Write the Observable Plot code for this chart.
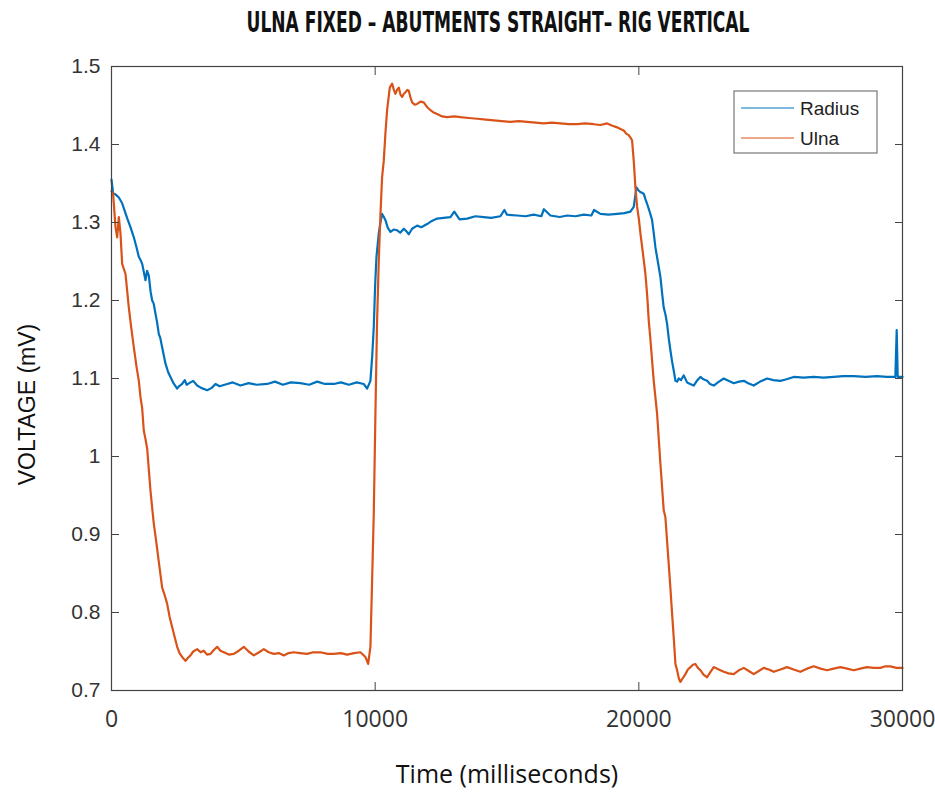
<!DOCTYPE html>
<html>
<head>
<meta charset="utf-8">
<script src="https://cdn.jsdelivr.net/npm/d3@7"></script>
<script src="https://cdn.jsdelivr.net/npm/@observablehq/plot@0.6"></script>
<style>
  html, body { margin: 0; padding: 0; background: #fff; }
  #titlebox { width: 935px; height: 50px; position: relative; }
  #title {
    position: absolute; left: 498px; top: 5px;
    font-family: 'Liberation Sans Narrow', 'DejaVu Sans Condensed', 'DejaVu Sans', sans-serif;
    font-weight: bold; font-size: 29px; line-height: 34px; color: #111;
    white-space: nowrap; transform-origin: 0 50%;
  }
</style>
</head>
<body>
<div id="titlebox"><span id="title"></span></div>
<div id="chart"></div>
<script>
// ---------- data ----------
const titleText = "ULNA FIXED \u2013 ABUTMENTS STRAIGHT\u2013 RIG VERTICAL";
const xLabel = "Time (milliseconds)";
const yLabel = "VOLTAGE (mV)";
const seriesNames = ["Radius", "Ulna"];
const seriesColors = ["#0072BD", "#D95319"];
const xTicks = [0, 10000, 20000, 30000];
const yTicks = [0.7, 0.8, 0.9, 1.0, 1.1, 1.2, 1.3, 1.4, 1.5];

const radiusTime = [0,60,150,278,400,468,600,720,847,950,1036,1100,1163,1289,1350,1416,1480,1542,1600,1668,1730,1795,1850,1921,2048,2150,2237,2350,2490,2560,2680,2780,2850,2996,3100,3249,3400,3628,3800,3944,4100,4387,4600,4892,5200,5500,5904,6200,6500,6800,7167,7500,7800,8100,8430,8700,9000,9300,9567,9694,9820,9890,9947,10000,10049,10137,10200,10263,10330,10390,10480,10580,10700,10832,10950,11085,11180,11275,11400,11591,11750,11970,12150,12350,12600,12855,13000,13200,13488,13800,14120,14400,14751,14900,15000,15384,15700,16014,16300,16400,16647,17000,17280,17600,17910,18200,18300,18543,18850,19176,19450,19680,19807,19909,19990,20060,20185,20250,20314,20400,20503,20570,20629,20720,20819,20880,20944,21010,21072,21140,21198,21260,21325,21388,21450,21514,21600,21704,21830,21950,22082,22200,22335,22450,22589,22700,22840,23000,23220,23400,23600,23800,23980,24150,24356,24600,24864,25100,25368,25600,25873,26250,26632,27000,27391,27750,28149,28600,29035,29400,29729,29780,29818,30000];
const radiusVoltage = [1.355,1.338,1.336,1.332,1.325,1.318,1.305,1.294,1.281,1.268,1.256,1.252,1.247,1.226,1.238,1.232,1.212,1.200,1.196,1.183,1.172,1.157,1.152,1.140,1.119,1.108,1.102,1.094,1.087,1.090,1.093,1.098,1.092,1.095,1.097,1.091,1.088,1.085,1.088,1.093,1.090,1.093,1.095,1.091,1.094,1.092,1.093,1.096,1.092,1.095,1.094,1.092,1.096,1.093,1.093,1.095,1.092,1.095,1.093,1.087,1.097,1.130,1.166,1.220,1.256,1.286,1.300,1.311,1.307,1.303,1.293,1.288,1.291,1.290,1.287,1.292,1.289,1.285,1.292,1.296,1.294,1.298,1.302,1.305,1.306,1.307,1.314,1.304,1.305,1.308,1.307,1.306,1.308,1.316,1.310,1.309,1.308,1.310,1.308,1.317,1.309,1.307,1.309,1.308,1.310,1.309,1.316,1.311,1.310,1.311,1.312,1.314,1.320,1.345,1.341,1.339,1.337,1.330,1.324,1.315,1.303,1.285,1.268,1.250,1.230,1.210,1.191,1.182,1.170,1.150,1.136,1.122,1.110,1.097,1.096,1.100,1.098,1.104,1.095,1.093,1.091,1.097,1.102,1.099,1.097,1.093,1.091,1.095,1.100,1.097,1.094,1.096,1.097,1.094,1.091,1.096,1.100,1.098,1.097,1.099,1.102,1.101,1.102,1.101,1.102,1.103,1.103,1.102,1.103,1.102,1.102,1.162,1.102,1.102];

const ulnaTime = [0,60,152,215,278,341,404,531,657,750,847,950,1036,1100,1163,1225,1290,1354,1400,1479,1540,1604,1700,1794,1860,1921,2000,2112,2200,2302,2400,2490,2580,2680,2806,2900,2996,3100,3249,3380,3500,3620,3754,3880,4008,4130,4260,4450,4638,4830,5017,5200,5397,5600,5776,5960,6155,6350,6534,6720,6913,7150,7420,7650,7925,8200,8430,8700,8938,9200,9442,9631,9733,9820,9884,9947,10010,10070,10137,10200,10263,10326,10390,10453,10554,10643,10710,10769,10830,10895,10960,11022,11090,11149,11220,11275,11340,11402,11500,11591,11720,11843,11970,12097,12220,12350,12540,12729,13000,13234,13550,13867,14200,14498,14800,15130,15450,15763,16080,16393,16700,17026,17340,17660,17970,18290,18540,18797,19000,19176,19300,19428,19520,19617,19700,19744,19807,19870,19935,20000,20060,20150,20250,20320,20376,20440,20503,20565,20692,20818,20944,21008,21070,21134,21200,21262,21330,21388,21451,21520,21577,21670,21767,21860,21957,22050,22146,22240,22335,22460,22589,22700,22840,23030,23220,23400,23600,23800,23980,24170,24356,24550,24736,24930,25115,25370,25620,25870,26126,26380,26632,26890,27138,27390,27644,27900,28149,28400,28655,28900,29161,29350,29540,29770,30000];
const ulnaVoltage = [1.340,1.337,1.294,1.281,1.307,1.286,1.247,1.234,1.191,1.165,1.140,1.115,1.097,1.076,1.062,1.033,1.022,1.010,0.990,0.956,0.935,0.914,0.890,0.865,0.848,0.832,0.824,0.811,0.795,0.781,0.768,0.756,0.748,0.743,0.738,0.742,0.745,0.750,0.753,0.749,0.751,0.746,0.747,0.752,0.756,0.751,0.749,0.746,0.747,0.751,0.756,0.750,0.745,0.749,0.753,0.749,0.747,0.748,0.745,0.748,0.749,0.748,0.747,0.749,0.749,0.747,0.747,0.748,0.746,0.748,0.749,0.743,0.734,0.756,0.841,0.927,1.055,1.170,1.251,1.310,1.358,1.379,1.415,1.444,1.473,1.478,1.470,1.465,1.470,1.473,1.464,1.461,1.465,1.467,1.470,1.469,1.460,1.454,1.451,1.452,1.455,1.454,1.448,1.444,1.441,1.439,1.436,1.435,1.436,1.435,1.434,1.433,1.432,1.431,1.430,1.429,1.430,1.429,1.428,1.427,1.428,1.427,1.426,1.426,1.427,1.426,1.425,1.427,1.424,1.422,1.420,1.418,1.414,1.412,1.408,1.405,1.379,1.345,1.320,1.305,1.286,1.262,1.234,1.205,1.174,1.150,1.123,1.097,1.055,0.991,0.931,0.922,0.892,0.862,0.830,0.798,0.765,0.734,0.726,0.715,0.711,0.716,0.721,0.727,0.730,0.733,0.734,0.729,0.726,0.720,0.717,0.723,0.730,0.727,0.724,0.722,0.721,0.726,0.729,0.725,0.721,0.725,0.729,0.727,0.724,0.727,0.730,0.727,0.724,0.728,0.731,0.728,0.726,0.728,0.730,0.728,0.726,0.728,0.730,0.729,0.729,0.731,0.731,0.729,0.729];

// ---------- build rows ----------
const rows = [
  ...radiusTime.map((t, i) => ({series: seriesNames[0], t, v: radiusVoltage[i]})),
  ...ulnaTime.map((t, i) => ({series: seriesNames[1], t, v: ulnaVoltage[i]}))
];

const fmtY = d => String(+d.toFixed(1));
const innerY = yTicks.slice(1, -1);
const innerX = xTicks.slice(1, -1);
const axisColor = "#444";

// ---------- legend (render-function mark) ----------
function legendMark(index, scales, values, dims) {
  const g = d3.create("svg:g");
  const right = dims.width - dims.marginRight - 25;
  const top = dims.marginTop + 25;
  const w = 143, rowH = 30, h = 62;
  g.append("rect").attr("x", right - w).attr("y", top).attr("width", w).attr("height", h)
    .attr("fill", "white").attr("stroke", "#777").attr("stroke-width", 1.2);
  seriesNames.forEach((name, i) => {
    const cy = top + 17 + i * rowH;
    g.append("line").attr("x1", right - w + 7).attr("x2", right - w + 60)
      .attr("y1", cy).attr("y2", cy).attr("stroke", seriesColors[i]).attr("stroke-width", 1.2);
    g.append("text").attr("x", right - w + 66).attr("y", cy).attr("dy", "0.35em")
      .attr("text-anchor", "start")
      .attr("font-family", "'Liberation Sans', Arial, sans-serif").attr("font-size", 19)
      .attr("fill", "#222").text(name);
  });
  return g.node();
}

// ---------- chart ----------
const chart = Plot.plot({
  width: 935,
  height: 743,
  marginLeft: 111,
  marginRight: 33,
  marginTop: 16,
  marginBottom: 103,
  x: {domain: [0, 30000]},
  y: {domain: [0.7, 1.5]},
  color: {domain: seriesNames, range: seriesColors},
  style: {background: "white"},
  marks: [
    Plot.line(rows, {x: "t", y: "v", z: "series", stroke: "series", strokeWidth: 2.2, strokeLinejoin: "round"}),
    Plot.frame({stroke: axisColor, strokeWidth: 1.2}),
    // tick labels
    Plot.axisY({anchor: "left", ticks: yTicks, tickFormat: fmtY, tickSize: 0, tickPadding: 11,
      fontSize: 21, fontFamily: "'Liberation Sans', Arial, sans-serif", fill: "#333", label: null}),
    Plot.axisX({anchor: "bottom", ticks: xTicks, tickFormat: d => String(d), tickSize: 0, tickPadding: 20,
      fontSize: 23, fontFamily: "'Open Sans', sans-serif", fill: "#333", label: null}),
    // inward ticks
    Plot.axisY({anchor: "left", ticks: innerY, tickFormat: () => "", tickSize: 8, dx: 8, stroke: axisColor, label: null}),
    Plot.axisY({anchor: "right", ticks: innerY, tickFormat: () => "", tickSize: 8, dx: -8, stroke: axisColor, label: null}),
    Plot.axisX({anchor: "bottom", ticks: innerX, tickFormat: () => "", tickSize: 8, dy: -8, stroke: axisColor, label: null}),
    Plot.axisX({anchor: "top", ticks: innerX, tickFormat: () => "", tickSize: 8, dy: 8, stroke: axisColor, label: null}),
    // axis titles
    Plot.text([yLabel], {frameAnchor: "left", text: d => d, rotate: -90, textAnchor: "middle", dx: -84, dy: 26,
      fontSize: 23, fontFamily: "'Liberation Sans', Arial, sans-serif", fill: "#111"}),
    Plot.text([xLabel], {frameAnchor: "bottom", text: d => d, dy: 84, lineAnchor: "middle",
      fontSize: 25, fontFamily: "'Open Sans', sans-serif", fill: "#111"}),
    legendMark
  ]
});

document.getElementById("chart").appendChild(chart);

// title: fit to the reference width (503px) centred at x = 498
const titleEl = document.getElementById("title");
titleEl.textContent = titleText;
const natural = titleEl.getBoundingClientRect().width;
const scale = 503 / natural;
titleEl.style.transform = `translateX(${-natural * scale / 2}px) scaleX(${scale})`;
</script>
</body>
</html>
